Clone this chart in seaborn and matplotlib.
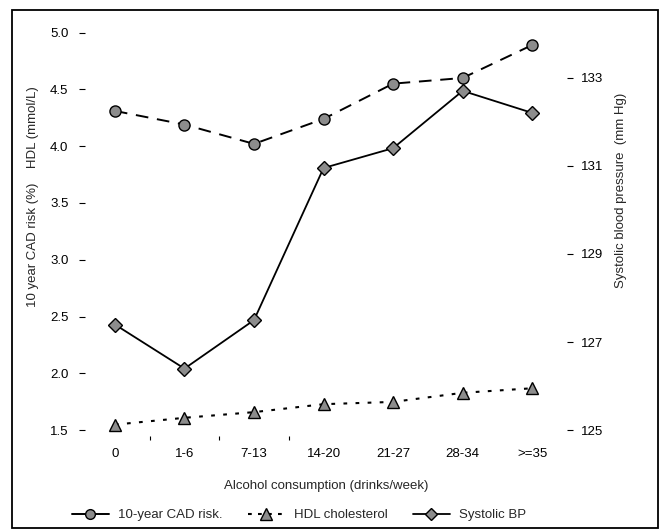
import matplotlib
matplotlib.use("Agg")
import matplotlib.pyplot as plt
import seaborn as sns
import numpy as np
import pandas as pd
from matplotlib.patches import Rectangle
from matplotlib.lines import Line2D

# ---- data ----
categories = ["0", "1-6", "7-13", "14-20", "21-27", "28-34", ">=35"]
cad_risk = [4.31, 4.19, 4.02, 4.24, 4.55, 4.60, 4.89]        # 10-year CAD risk (%)
hdl_chol = [1.55, 1.61, 1.66, 1.73, 1.75, 1.83, 1.87]        # HDL (mmol/L)
systolic_bp = [127.4, 126.4, 127.5, 130.95, 131.4, 132.7, 132.2]  # mm Hg
left_ticks = [1.5, 2.0, 2.5, 3.0, 3.5, 4.0, 4.5, 5.0]
right_ticks = [125, 127, 129, 131, 133]

sns.set_style("white")
plt.rcParams["font.family"] = ["Liberation Sans", "DejaVu Sans"]

W, H = 663, 532
fig = plt.figure(figsize=(W / 100, H / 100), dpi=100)
ax = fig.add_axes([85 / W, (H - 436) / H, (567 - 85) / W, (436 - 20) / H])
ax2 = ax.twinx()

x = np.arange(len(categories))
df = pd.DataFrame({"x": x, "cad": cad_risk, "hdl": hdl_chol, "bp": systolic_bp})

mgrey = "#8c8c8c"
sns.lineplot(data=df, x="x", y="cad", ax=ax, color="black", lw=1.4,
             linestyle=(0, (6.5, 4.5)), marker="o", markersize=8,
             markerfacecolor=mgrey, markeredgecolor="black", markeredgewidth=1.0)
sns.lineplot(data=df, x="x", y="hdl", ax=ax, color="black", lw=1.5,
             linestyle=(0, (1.8, 4)), marker="^", markersize=9,
             markerfacecolor=mgrey, markeredgecolor="black", markeredgewidth=1.0)
sns.lineplot(data=df, x="x", y="bp", ax=ax2, color="black", lw=1.3,
             linestyle="-", marker="D", markersize=7,
             markerfacecolor=mgrey, markeredgecolor="black", markeredgewidth=1.0)

ax.set_xlim(-0.43, 6.5)
ylo, yhi = 1.45, 5.11
ax.set_ylim(ylo, yhi)
k = 113.7 / 44.1
ax2.set_ylim(125 + (ylo - 1.5) * k, 125 + (yhi - 1.5) * k)

for a in (ax, ax2):
    for s in a.spines.values():
        s.set_visible(False)
    a.grid(False)
    a.set_facecolor("none")

ax.set_yticks(left_ticks)
ax.set_yticklabels([f"{v:.1f}" for v in left_ticks])
ax2.set_yticks(right_ticks)
ax2.set_yticklabels([str(v) for v in right_ticks])
ax.set_xticks(x)
ax.set_xticklabels(categories)
ax.set_xticks([0.5, 1.5, 2.5], minor=True)

ax.tick_params(axis="y", which="major", left=True, direction="out", length=4,
               width=0.8, pad=8, labelsize=9.5, colors="black")
ax.tick_params(axis="x", which="major", bottom=False, pad=5, labelsize=9.5,
               colors="black")
ax.tick_params(axis="x", which="minor", bottom=True, direction="out", length=3,
               width=0.8, colors="black")
ax2.tick_params(axis="y", right=True, direction="out", length=4, width=0.8,
                pad=6, labelsize=9.5, colors="black")

ax.set_xlabel("Alcohol consumption (drinks/week)", fontsize=9.5)
ax.xaxis.set_label_coords(0.5, -0.105)
ax.set_ylabel("10 year CAD risk (%)    HDL (mmol/L)", fontsize=9.5)
ax.yaxis.set_label_coords(-0.095, 0.575)
ax2.set_ylabel("Systolic blood pressure  (mm Hg)", fontsize=9.5)
ax2.yaxis.set_label_coords(1.1, 0.59)

handles = [
    Line2D([], [], color="black", lw=1.4, linestyle="-", marker="o", markersize=7,
           markerfacecolor=mgrey, markeredgecolor="black"),
    Line2D([], [], color="black", lw=1.5, linestyle=(0, (1.8, 3)), marker="^",
           markersize=8, markerfacecolor=mgrey, markeredgecolor="black"),
    Line2D([], [], color="black", lw=1.3, linestyle="-", marker="D", markersize=6,
           markerfacecolor=mgrey, markeredgecolor="black"),
]
labels = ["10-year CAD risk.", "HDL cholesterol", "Systolic BP"]
fig.legend(handles, labels, loc="center left", bbox_to_anchor=(60 / W, (H - 515) / H),
           ncol=3, frameon=False, fontsize=9.5, handlelength=2.8,
           columnspacing=1.9, handletextpad=0.7)

fig.patches.append(Rectangle((12 / W, 4 / H), 646 / W, 518 / H,
                             transform=fig.transFigure, fill=False,
                             edgecolor="black", lw=1.3))

fig.savefig("out.png", dpi=100)
